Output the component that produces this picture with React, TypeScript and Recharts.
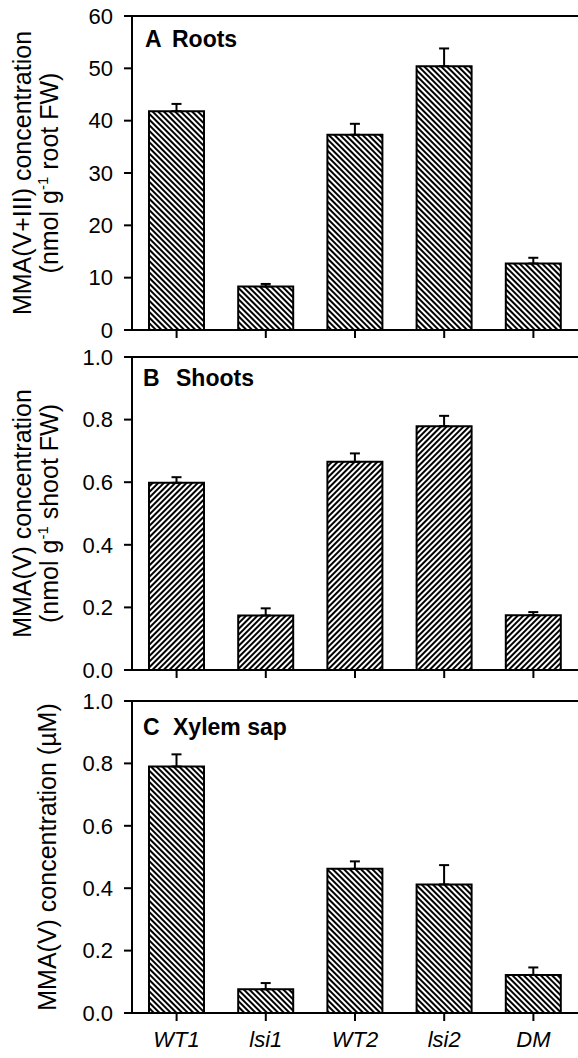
import React from "react";
import {
  BarChart,
  Bar,
  XAxis,
  YAxis,
  ErrorBar,
  ReferenceLine,
  Label,
  Customized,
} from "recharts";

const categories = ["WT1", "lsi1", "WT2", "lsi2", "DM"];

const rootsMean = [41.8, 8.3, 37.3, 50.4, 12.7];
const rootsSe = [1.4, 0.5, 2.1, 3.4, 1.1];

const shootsMean = [0.598, 0.174, 0.665, 0.779, 0.175];
const shootsSe = [0.018, 0.023, 0.027, 0.033, 0.01];

const sapMean = [0.79, 0.076, 0.462, 0.412, 0.122];
const sapSe = [0.039, 0.02, 0.024, 0.062, 0.024];

const rootsTicks = [0, 10, 20, 30, 40, 50, 60];
const fracTicks = [0, 0.2, 0.4, 0.6, 0.8, 1.0];

const FONT = "'Liberation Sans', Arial, sans-serif";

const build = (means: number[], errs: number[]) =>
  categories.map((name, i) => ({ name, mean: means[i], err: [0, errs[i]] }));

interface PanelProps {
  id: string;
  top: number;
  height: number;
  marginTop: number;
  xHeight: number;
  data: { name: string; mean: number; err: number[] }[];
  ticks: number[];
  decimals: number;
  letter: string;
  title: string;
  titleX: number;
  letterX: number;
  titleY: number;
  yLines: React.ReactNode[];
  yLineX: number[];
  hatch: "back" | "fwd";
  showNames: boolean;
}

function Panel(p: PanelProps) {
  const max = p.ticks[p.ticks.length - 1];
  return (
    <div style={{ position: "absolute", left: 0, top: p.top }}>
      <BarChart
        width={578}
        height={p.height}
        data={p.data}
        margin={{ top: p.marginTop, right: 0, bottom: 0, left: 0 }}
        barCategoryGap={0}
      >
        <defs>
          <pattern
            id={p.id}
            patternUnits="userSpaceOnUse"
            width={4}
            height={4}
            patternTransform={p.hatch === "back" ? "rotate(-45)" : "rotate(45)"}
          >
            <rect x={0} y={0} width={4} height={4} fill="#fff" />
            <rect x={0} y={0} width={2} height={4} fill="#000" />
          </pattern>
        </defs>
        <XAxis
          dataKey="name"
          height={p.xHeight}
          axisLine={{ stroke: "#000", strokeWidth: 2 }}
          tickLine={{ stroke: "#000", strokeWidth: 2 }}
          tickSize={8}
          tickMargin={10}
          interval={0}
          tick={
            p.showNames
              ? { fill: "#000", fontSize: 22, fontStyle: "italic", fontFamily: FONT }
              : () => <g />
          }
        />
        <YAxis
          width={132}
          domain={[0, max]}
          ticks={p.ticks}
          allowDataOverflow
          axisLine={{ stroke: "#000", strokeWidth: 2 }}
          tickLine={{ stroke: "#000", strokeWidth: 2 }}
          tickSize={8}
          tickMargin={11}
          tickFormatter={(v: number) => v.toFixed(p.decimals)}
          tick={{ fill: "#000", fontSize: 22, fontFamily: FONT }}
        >
          <Label
            content={(props: any) => {
              const vb = props.viewBox || {};
              const cy = (vb.y ?? 0) + (vb.height ?? 0) / 2;
              return (
                <g>
                  {p.yLines.map((line, i) => (
                    <text
                      key={i}
                      x={p.yLineX[i]}
                      y={cy}
                      transform={`rotate(-90, ${p.yLineX[i]}, ${cy})`}
                      textAnchor="middle"
                      fontSize={25}
                      fontFamily={FONT}
                      fill="#000"
                    >
                      {line}
                    </text>
                  ))}
                </g>
              );
            }}
          />
        </YAxis>
        <ReferenceLine y={max} stroke="#000" strokeWidth={2} />
        <Bar
          dataKey="mean"
          fill={`url(#${p.id})`}
          stroke="#000"
          strokeWidth={2}
          barSize={55}
          isAnimationActive={false}
        >
          <ErrorBar dataKey="err" direction="y" width={5} stroke="#000" strokeWidth={2} />
        </Bar>
        <Customized
          component={() => (
            <text fontFamily={FONT} fontWeight="bold" fontSize={23} fill="#000" y={p.titleY}>
              <tspan x={p.letterX}>{p.letter}</tspan>
              <tspan x={p.titleX}>{p.title}</tspan>
            </text>
          )}
        />
      </BarChart>
    </div>
  );
}

const sup = (pre: string, post: string) => (
  <>
    {pre}
    <tspan dy={-10} fontSize={15}>-1</tspan>
    <tspan dy={10}>{post}</tspan>
  </>
);

export default function App() {
  return (
    <div
      style={{
        position: "absolute",
        left: 0,
        top: 0,
        width: 578,
        height: 1058,
        background: "#fff",
        fontFamily: FONT,
      }}
    >
      <Panel
        id="hatchA"
        top={0}
        height={345}
        marginTop={16}
        xHeight={15}
        data={build(rootsMean, rootsSe)}
        ticks={rootsTicks}
        decimals={0}
        letter="A"
        title="Roots"
        letterX={145}
        titleX={172}
        titleY={47}
        yLines={["MMA(V+III) concentration", sup("(nmol g", " root FW)")]}
        yLineX={[31, 58]}
        hatch="back"
        showNames={false}
      />
      <Panel
        id="hatchB"
        top={340}
        height={345}
        marginTop={17}
        xHeight={15}
        data={build(shootsMean, shootsSe)}
        ticks={fracTicks}
        decimals={1}
        letter="B"
        title="Shoots"
        letterX={143}
        titleX={176}
        titleY={46}
        yLines={["MMA(V) concentration", sup("(nmol g", " shoot FW)")]}
        yLineX={[31, 58]}
        hatch="fwd"
        showNames={false}
      />
      <Panel
        id="hatchC"
        top={685}
        height={373}
        marginTop={16}
        xHeight={45}
        data={build(sapMean, sapSe)}
        ticks={fracTicks}
        decimals={1}
        letter="C"
        title="Xylem sap"
        letterX={143}
        titleX={173}
        titleY={50}
        yLines={["MMA(V) concentration (\u00b5M)"]}
        yLineX={[56]}
        hatch="back"
        showNames={true}
      />
    </div>
  );
}
